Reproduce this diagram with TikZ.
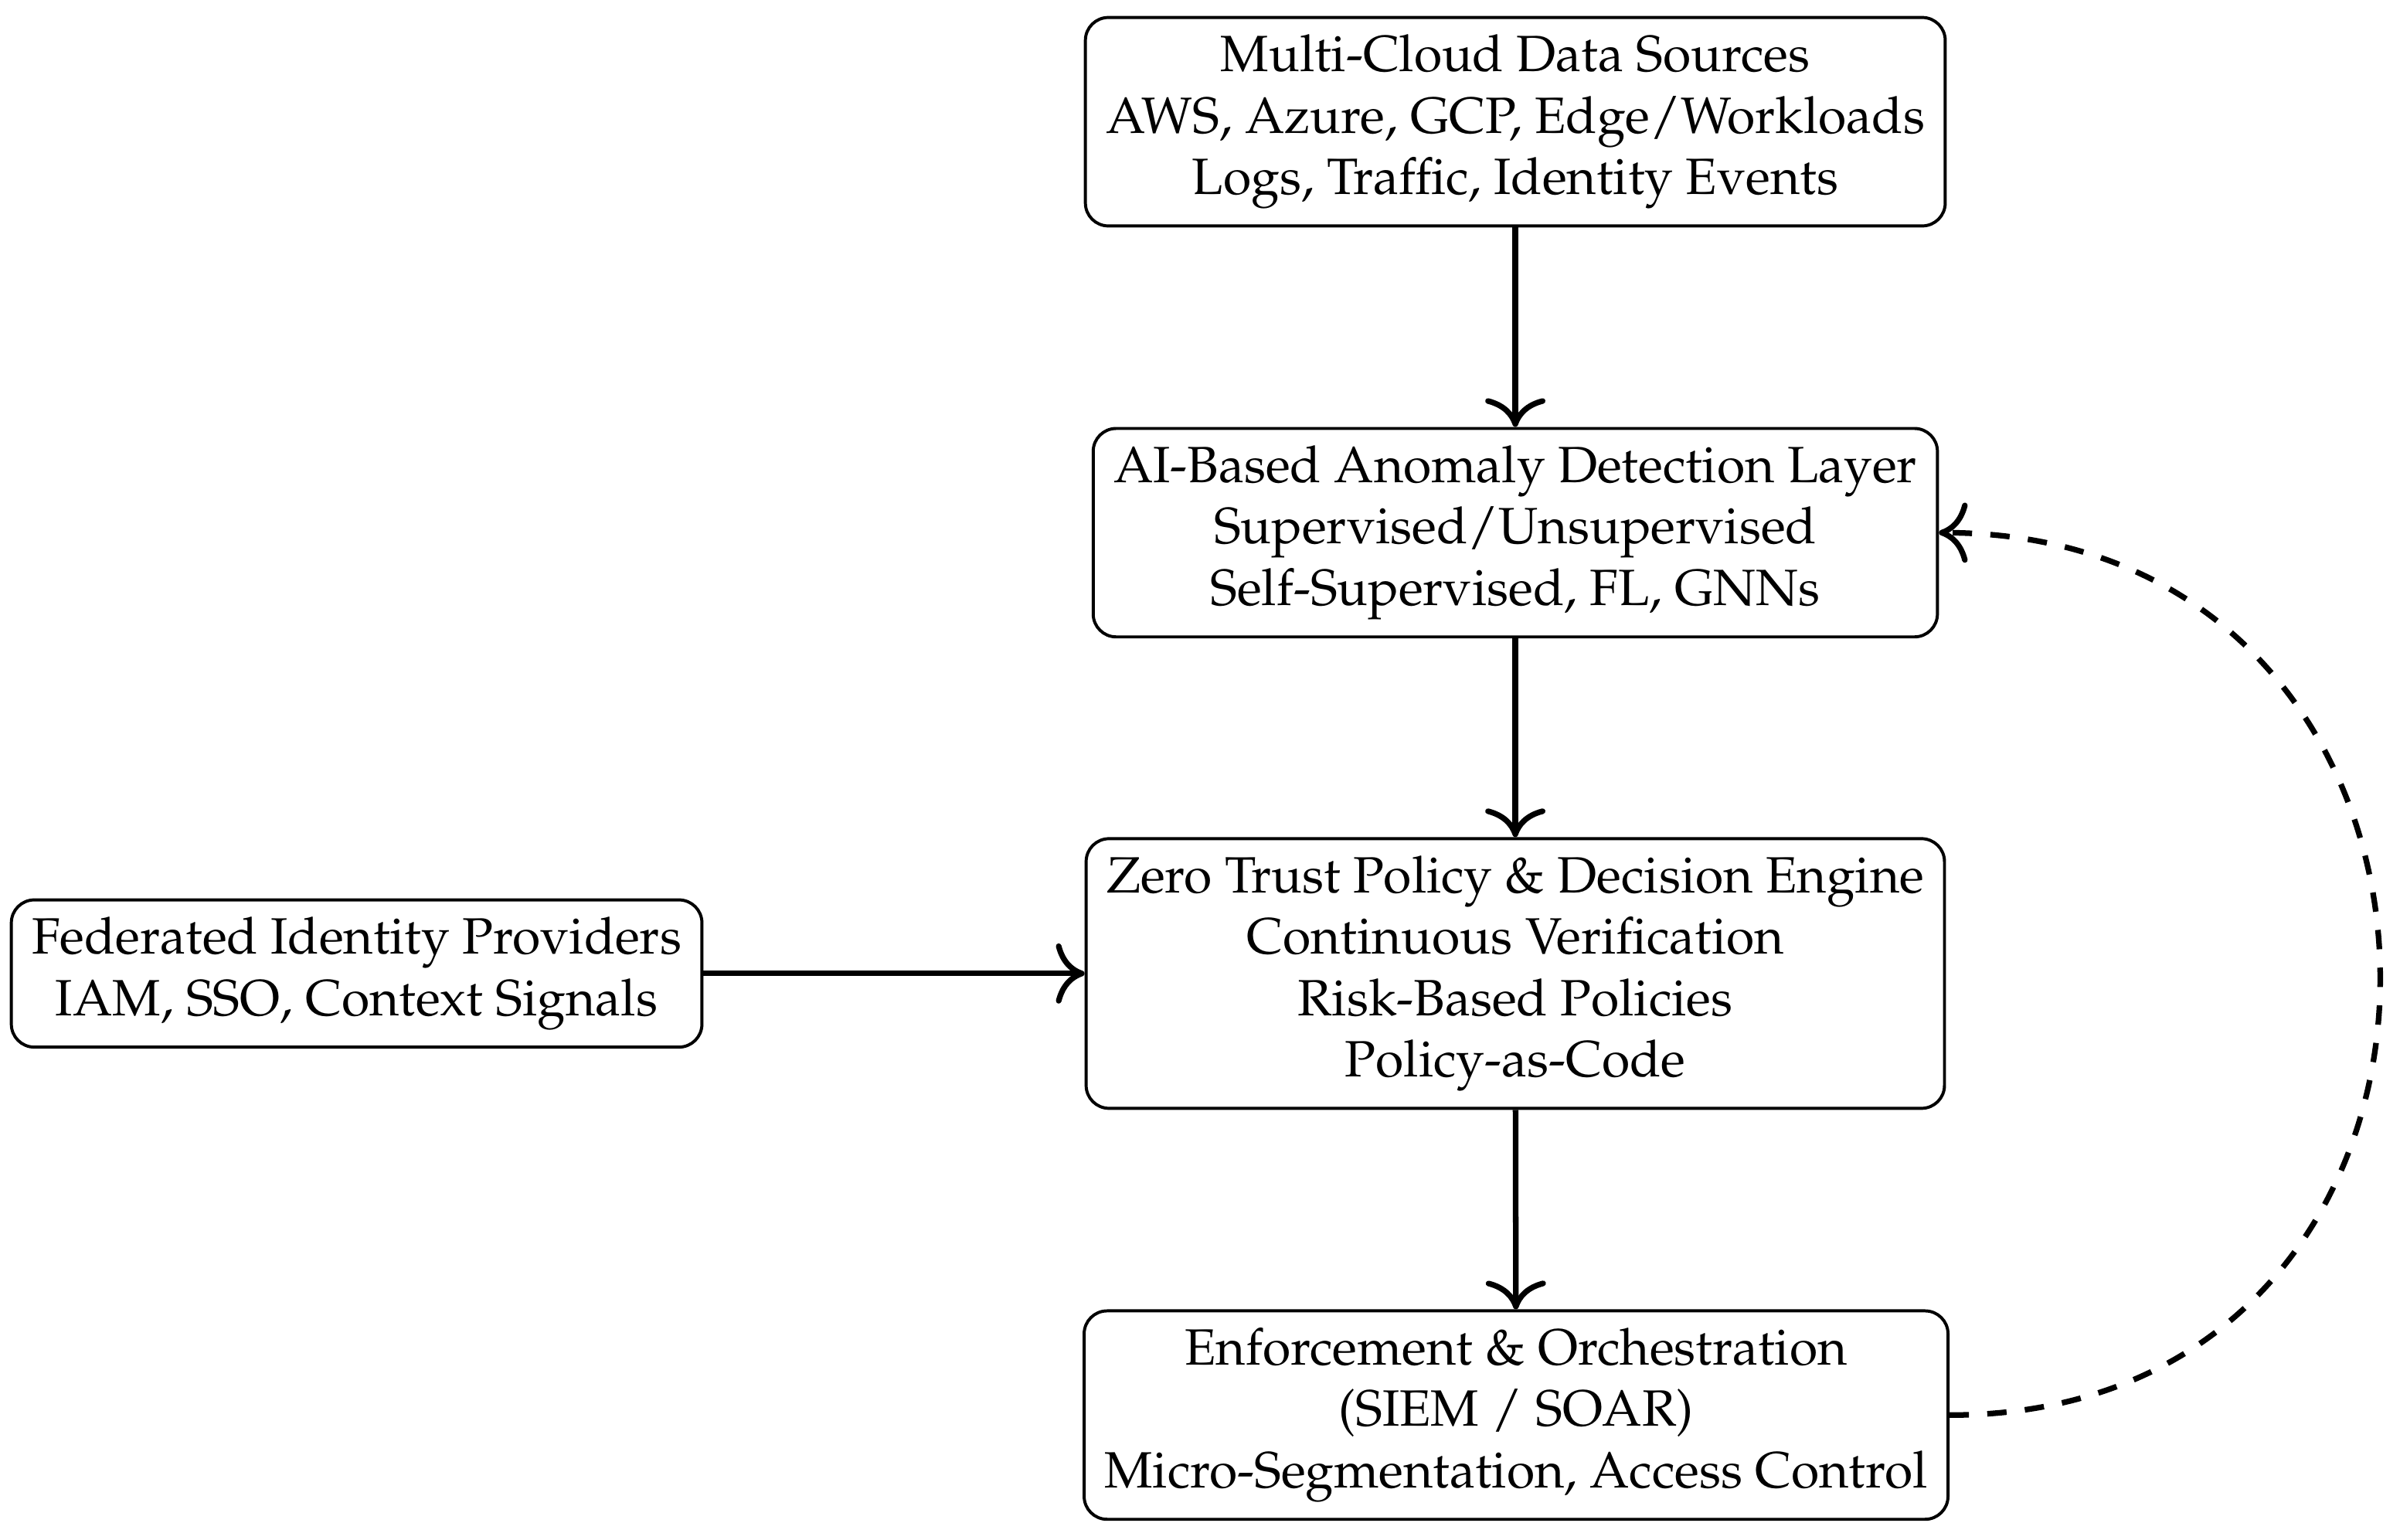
\documentclass[tikz,border=0pt]{standalone}
\usepackage[T1]{fontenc}
\usepackage{mathpazo}
\usetikzlibrary{arrows.meta}
\begin{document}
\begin{tikzpicture}[x=0.3pt,y=-0.3pt,
  box/.style={draw,line width=0.6pt,rounded corners=4.5pt,align=center,inner xsep=4pt,inner ysep=3.4pt},
  conn/.style={line width=1.1pt,-{To[scale=1.4]}},
  fb/.style={dash pattern=on 3.8pt off 3.6pt}]
\useasboundingbox (0,0) rectangle (1568,1006);
\node[box] (src) at (990,79.5) {Multi-Cloud Data Sources\\AWS, Azure, GCP, Edge/Workloads\\Logs, Traffic, Identity Events};
\node[box] (ai) at (990,348) {AI-Based Anomaly Detection Layer\\Supervised/Unsupervised\\Self-Supervised, FL, GNNs};
\node[box] (zt) at (990,636) {Zero Trust Policy \& Decision Engine\\Continuous Verification\\Risk-Based Policies\\Policy-as-Code};
\node[box] (enf) at (990.5,924.5) {Enforcement \& Orchestration\\(SIEM / SOAR)\\Micro-Segmentation, Access Control};
\node[box] (fed) at (233,636) {Federated Identity Providers\\IAM, SSO, Context Signals};
\draw[conn] (src) -- (ai);
\draw[conn] (ai) -- (zt);
\draw[conn] (zt) -- (enf);
\draw[conn] (fed) -- (zt);
\draw[conn,fb] (enf.east) to[out=0,in=0,looseness=1.68] (ai.east);
\end{tikzpicture}
\end{document}
